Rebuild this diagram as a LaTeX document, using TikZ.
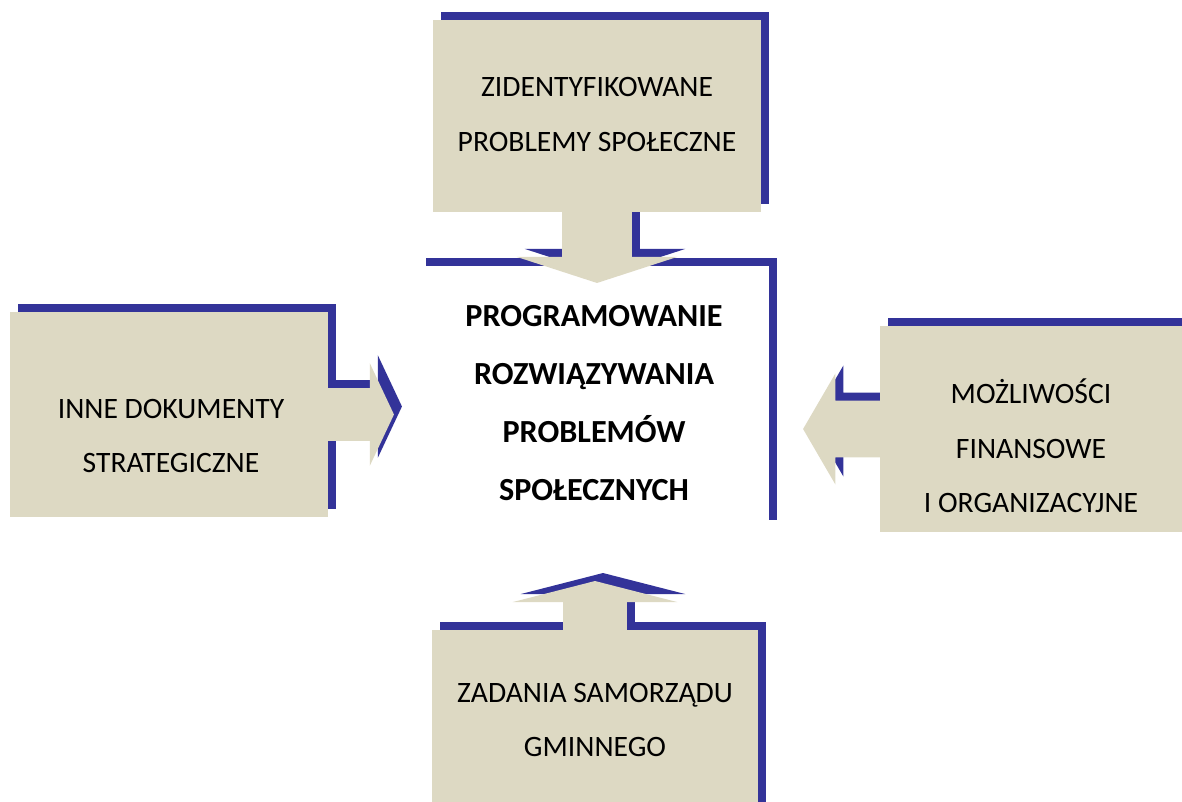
\documentclass[tikz,border=0pt]{standalone}
\usepackage{fontspec}
\setmainfont{Carlito}
\usetikzlibrary{positioning,shapes.arrows,shadows}
\definecolor{cBeige}{RGB}{221,217,195}
\definecolor{cBlue}{RGB}{51,51,153}
\pgfdeclarelayer{shade}
\pgfsetlayers{shade,main}

\begin{document}
\begin{tikzpicture}[x=0.5pt,y=-0.5pt,
  font=\fontsize{14.8}{27.3}\selectfont,
  card/.style={rectangle, fill=cBeige, inner sep=0pt,
    general shadow={fill=cBlue, shadow xshift=4pt, shadow yshift=4pt}},
  core/.style={card, fill=white},
  cardtext/.style={align=center, inner sep=0pt},
  blockarr/.style={single arrow, anchor=tip, fill=cBeige},
  arrshade/.style={fill=cBlue, xshift=4pt, yshift=4pt},
  arrDown/.style={blockarr, shape border rotate=270, inner sep=17.25pt,
    minimum height=46pt, single arrow head extend=22.75pt, single arrow tip angle=144},
  arrRight/.style={blockarr, shape border rotate=0, inner sep=13pt,
    minimum height=44pt, single arrow head extend=12.5pt, single arrow tip angle=129.6},
  arrLeft/.style={blockarr, shape border rotate=180, inner sep=14pt,
    minimum height=48pt, single arrow head extend=13.5pt, single arrow tip angle=119.6},
  arrUp/.style={blockarr, shape border rotate=90, inner sep=15.75pt,
    minimum height=35pt, single arrow head extend=25.25pt, single arrow tip angle=151.3},
]
\useasboundingbox (0,0) rectangle (1182,802);

% centre
\node[core, minimum width=175.5pt, minimum height=131pt] (prog) at (593.5,397) {};
\node[cardtext, font=\fontsize{16.1}{29}\selectfont\bfseries] (progT) at (594,403)
  {PROGRAMOWANIE\\ROZWIĄZYWANIA\\PROBLEMÓW\\SPOŁECZNYCH};

% surrounding boxes
\node[card, minimum width=164pt, minimum height=96pt] (zid) at (597,116) {};
\node[card, minimum width=159pt, minimum height=102.5pt] (inne) at (169,414.5) {};
\node[card, minimum width=152pt, minimum height=103pt] (mozl) at (1032,429) {};
\node[card, minimum width=163pt, minimum height=90pt] (zad) at (595,720) {};

\node[cardtext] (zidT) at (597,114.5) {ZIDENTYFIKOWANE\\PROBLEMY SPOŁECZNE};
\node[cardtext] (inneT) at (171,436) {INNE DOKUMENTY\\STRATEGICZNE};
\node[cardtext] (mozlT) at (1031,446) {MOŻLIWOŚCI\\FINANSOWE\\I ORGANIZACYJNE};
\node[cardtext] (zadT) at (595,720) {ZADANIA SAMORZĄDU\\GMINNEGO};

% block arrows into the centre
\begin{pgfonlayer}{shade}
\node[arrDown, arrshade] (zidS) at ([yshift=-35.5pt]zid.south) {};
\node[arrRight, arrshade] (inneS) at ([xshift=33pt]inne.east) {};
\node[arrLeft, arrshade] (mozlS) at ([xshift=-38.5pt]mozl.west) {};
\node[arrUp, arrshade] (zadS) at ([yshift=24.5pt]zad.north) {};
\end{pgfonlayer}
\node[arrDown] (zidA) at ([yshift=-35.5pt]zid.south) {};
\node[arrRight] (inneA) at ([xshift=33pt]inne.east) {};
\node[arrLeft] (mozlA) at ([xshift=-38.5pt]mozl.west) {};
\node[arrUp] (zadA) at ([yshift=24.5pt]zad.north) {};
\end{tikzpicture}
\end{document}
